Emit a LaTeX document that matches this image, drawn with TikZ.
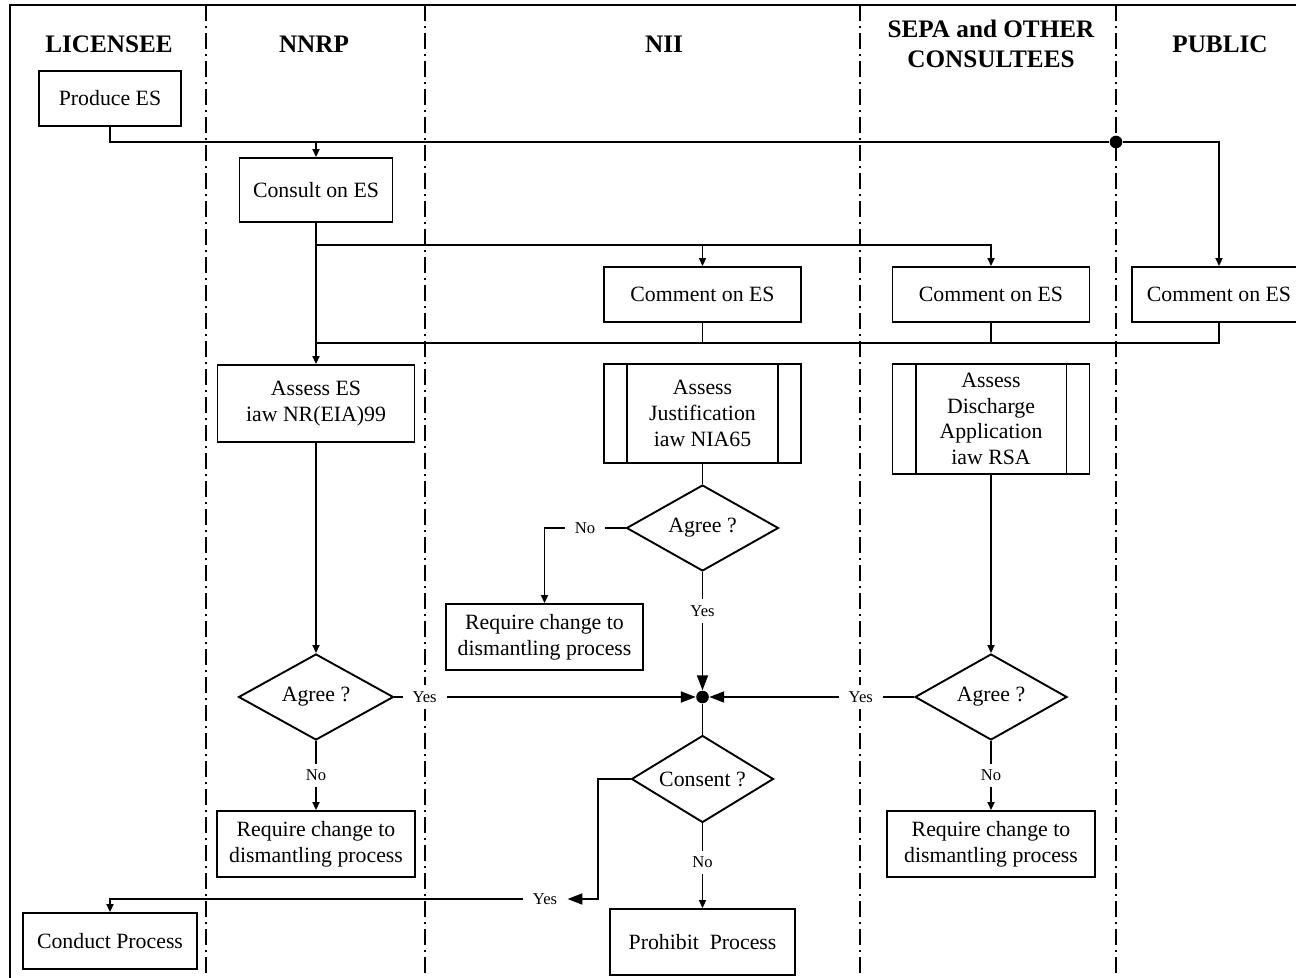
\documentclass[tikz,border=0pt]{standalone}
\usepackage{fontspec}
\setmainfont{Liberation Serif}
\usetikzlibrary{shapes.geometric,arrows.meta,calc}
\newcommand{\boxfont}{\fontsize{10.9}{12.8}\selectfont}
\newcommand{\headfont}{\bfseries\fontsize{12.6}{15}\selectfont}
\newcommand{\tagfont}{\fontsize{8.3}{10}\selectfont}

\begin{document}
\begin{tikzpicture}[
    x=0.5pt, y=-0.5pt,
    lane/.style={line width=0.9pt, dash pattern=on 8pt off 2.5pt on 1pt off 2.5pt},
    process/.style={rectangle, draw, line width=0.95pt, align=center, inner sep=0pt, font=\boxfont},
    decision/.style={diamond, draw, line width=0.95pt, aspect=1.77, inner sep=0pt, minimum width=76pt, minimum height=43pt, font=\boxfont},
    lanehead/.style={align=center, font=\headfont},
    tag/.style={fill=white, inner xsep=5pt, inner ysep=3pt, font=\tagfont},
    link/.style={line width=0.95pt},
    arrow/.style={link, -{Triangle[length=4pt,width=3.5pt]}},
    bigarrow/.style={link, -{Triangle[length=7.5pt,width=5.5pt]}},
    junction/.style={circle, fill, inner sep=0pt, minimum size=6.3pt}
]
    \useasboundingbox (0,0) rectangle (1296,978);
    \clip (0,0) rectangle (1296,978);

    % Swimlanes
    \draw[line width=0.8pt] (1296,5) -- (10,5) -- (10,978);
    \foreach \x in {206,425,860,1116}
        \draw[lane] (\x,5) -- (\x,978);
    \node[lanehead] (hlic) at (109,44) {LICENSEE};
    \node[lanehead] (hnnrp) at (314,44) {NNRP};
    \node[lanehead] (hnii) at (664,44) {NII};
    \node[lanehead] (hsepa) at (991,44) {SEPA and OTHER\\CONSULTEES};
    \node[lanehead] (hpub) at (1220,44) {PUBLIC};

    % Consultation
    \node[process, minimum width=71pt, minimum height=27.5pt] (produce) at (110,98.5) {Produce ES};
    \node[process, minimum width=76.5pt, minimum height=32pt] (consult) at (316,190) {Consult on ES};
    \node[process, minimum width=98.5pt, minimum height=27.5pt] (cnii) at (702.5,294.5) {Comment on ES};
    \node[process, minimum width=98.5pt, minimum height=27.5pt] (csepa) at (991,294.5) {Comment on ES};
    \node[process, minimum width=87pt, minimum height=27.5pt] (cpub) at (1219,294.5) {Comment on ES};
    \node[junction] (split) at (1116,142) {};
    \coordinate (fanout) at (316,245);
    \coordinate (fanin) at (316,343);

    % Assessment
    \node[process, minimum width=98.5pt, minimum height=38.5pt] (assess) at (316,403.5) {Assess ES\\iaw NR(EIA)99};
    \node[process, minimum width=98.5pt, minimum height=49.5pt] (ajust) at (702.5,413.5) {Assess\\Justification\\iaw NIA65};
    \node[process, minimum width=98.5pt, minimum height=55pt] (adisch) at (991,419) {Assess\\Discharge\\Application\\iaw RSA};
    \draw[link] ([xshift=12pt]ajust.north west) -- ([xshift=12pt]ajust.south west);
    \draw[link] ([xshift=-12pt]ajust.north east) -- ([xshift=-12pt]ajust.south east);
    \draw[link] ([xshift=12pt]adisch.north west) -- ([xshift=12pt]adisch.south west);
    \draw[link] ([xshift=-12pt]adisch.north east) -- ([xshift=-12pt]adisch.south east);

    % Decisions
    \node[decision] (agnii) at (702.5,528) {Agree ?};
    \node[process, minimum width=98.5pt, minimum height=33pt] (chnii) at (544.5,637) {Require change to\\dismantling process};
    \node[decision, minimum width=77.5pt] (agnnrp) at (316,697) {Agree ?};
    \node[decision] (agsepa) at (991,697) {Agree ?};
    \node[process, minimum width=99pt, minimum height=33pt] (chnnrp) at (316,844) {Require change to\\dismantling process};
    \node[process, minimum width=104pt, minimum height=33pt] (chsepa) at (991,844) {Require change to\\dismantling process};
    \node[junction] (junc) at (702.5,697) {};
    \node[decision, aspect=1.63, minimum width=71pt, minimum height=43.5pt] (consent) at (702.5,779) {Consent ?};
    \node[process, minimum width=92.5pt, minimum height=33pt] (prohibit) at (702.5,942) {Prohibit~ Process};
    \node[process, minimum width=87pt, minimum height=28pt] (conduct) at (110,941) {Conduct Process};
    \node[tag] (yescons) at (545,899) {Yes};

    \draw[link] (produce.south) |- (split);
    \draw[arrow] (split) -| (cpub.north);
    \draw[arrow] (consult.north |- split) -- (consult.north);
    \draw[arrow] (consult.south) -- (assess.north);
    \draw[arrow] (fanout) -| (cnii.north);
    \draw[arrow] (fanout) -| (csepa.north);
    \draw[link] (cpub.south) |- (fanin);
    \draw[link] (cnii.south) -- (cnii.south |- fanin);
    \draw[link] (csepa.south) -- (csepa.south |- fanin);
    \draw[arrow] (assess.south) -- (agnnrp.north);
    \draw[link] (ajust.south) -- (agnii.north);
    \draw[arrow] (adisch.south) -- (agsepa.north);
    \draw[arrow] (agnii.west) -| node[tag, pos=0.25] {No} (chnii.north);
    \draw[bigarrow] (agnii.south) -- node[tag, pos=0.33] {Yes} (junc);
    \draw[bigarrow] (agnnrp.east) -- node[tag, pos=0.1] {Yes} (junc);
    \draw[bigarrow] (agsepa.west) -- node[tag, pos=0.26] {Yes} (junc);
    \draw[arrow] (agnnrp.south) -- node[tag] {No} (chnnrp.north);
    \draw[arrow] (agsepa.south) -- node[tag] {No} (chsepa.north);
    \draw[link] (junc) -- (consent.north);
    \draw[arrow] (consent.south) -- node[tag, pos=0.46] {No} (prohibit.north);
    \draw[bigarrow] (consent.west) -| ($(consent.west)+(-33,120)$) -- (yescons.east);
    \draw[arrow] (yescons.west) -| (conduct.north);
\end{tikzpicture}
\end{document}
